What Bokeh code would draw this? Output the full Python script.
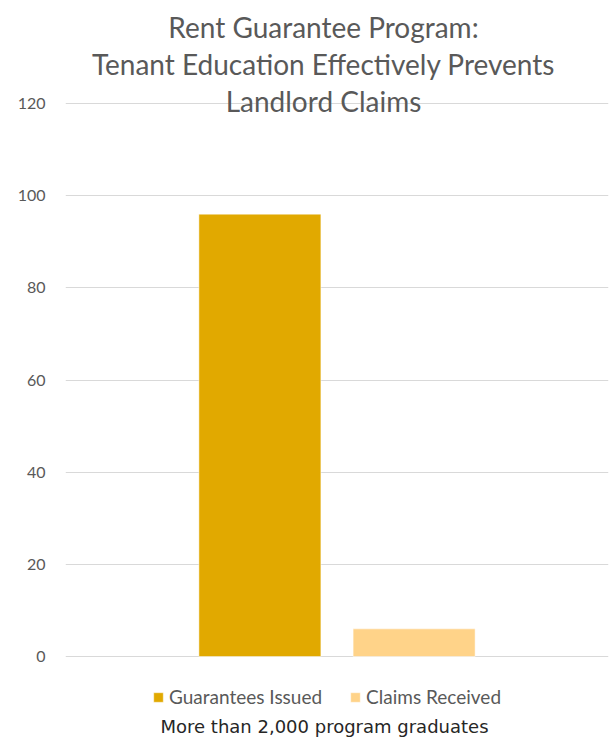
from bokeh.plotting import figure
from bokeh.models import (ColumnDataSource, FactorRange, Range1d, Label, Legend,
                          LegendItem)
from bokeh.transform import dodge
from bokeh.embed import file_html
from bokeh.resources import INLINE

# ---- data ----
categories = ["More than 2,000 program graduates"]
series_names = ["Guarantees Issued", "Claims Received"]
guarantees_issued = [96]
claims_received = [6]
y_ticks = [0, 20, 40, 60, 80, 100, 120]
title_lines = ["Rent Guarantee Program:",
               "Tenant Education Effectively Prevents",
               "Landlord Claims"]

colors = ["#E1A900", "#FFD389"]
GRAY = "#595959"

src = ColumnDataSource(dict(cat=categories, g=guarantees_issued, c=claims_received))

# frame spans the full height so that title, legend and note sit inside it
PX = 4.608  # pixels per value unit
H = 742
p = figure(x_range=FactorRange(*categories),
           y_range=Range1d(-(H - 656) / PX, 656 / PX),
           width=615, height=H, output_backend="svg", toolbar_location=None,
           min_border_left=65, min_border_right=7, min_border_top=0,
           min_border_bottom=0)
p.title.visible = False
p.outline_line_color = None
p.background_fill_color = "white"
p.border_fill_color = "white"

r1 = p.vbar(x=dodge("cat", -0.142, range=p.x_range), top="g", width=0.2247,
            source=src, fill_color=colors[0], line_color="white", line_width=0.5)
r2 = p.vbar(x=dodge("cat", 0.142, range=p.x_range), top="c", width=0.2247,
            source=src, fill_color=colors[1], line_color="white", line_width=0.5)

p.xaxis.visible = False
p.xgrid.grid_line_color = None
p.ygrid.grid_line_color = "#D9D9D9"
p.ygrid.grid_line_width = 1

ya = p.yaxis[0]
ya.ticker = y_ticks
ya.axis_line_color = None
ya.major_tick_line_color = None
ya.minor_tick_line_color = None
ya.major_tick_out = 0
ya.major_tick_in = 0
ya.major_label_standoff = 20
ya.major_label_text_font = "Lato"
ya.major_label_text_font_size = "16px"
ya.major_label_text_color = GRAY

legend = Legend(items=[LegendItem(label=series_names[0], renderers=[r1]),
                       LegendItem(label=series_names[1], renderers=[r2])],
                orientation="horizontal", location=(87, 34),
                border_line_color=None, background_fill_alpha=0,
                label_text_font="Lato", label_text_font_size="19px",
                label_text_color=GRAY, glyph_width=12, glyph_height=12,
                label_standoff=5, spacing=27, padding=0, margin=0)
p.add_layout(legend, "center")

p.add_layout(Label(x=259, y=(656 - 726) / PX, x_units="screen", y_units="data",
                   text=categories[0], text_align="center", text_baseline="alphabetic",
                   text_font="DejaVu Sans", text_font_size="18px", text_color="#262626"))

for i, txt in enumerate(title_lines):
    yb = (656 - (26 + 37 * i)) / PX
    p.add_layout(Label(x=258, y=yb, x_units="screen", y_units="data", text=txt,
                       text_align="center", text_baseline="alphabetic",
                       text_font="Lato", text_font_size="28px", text_color=GRAY))

open("out.html", "w").write(file_html(p, INLINE))
